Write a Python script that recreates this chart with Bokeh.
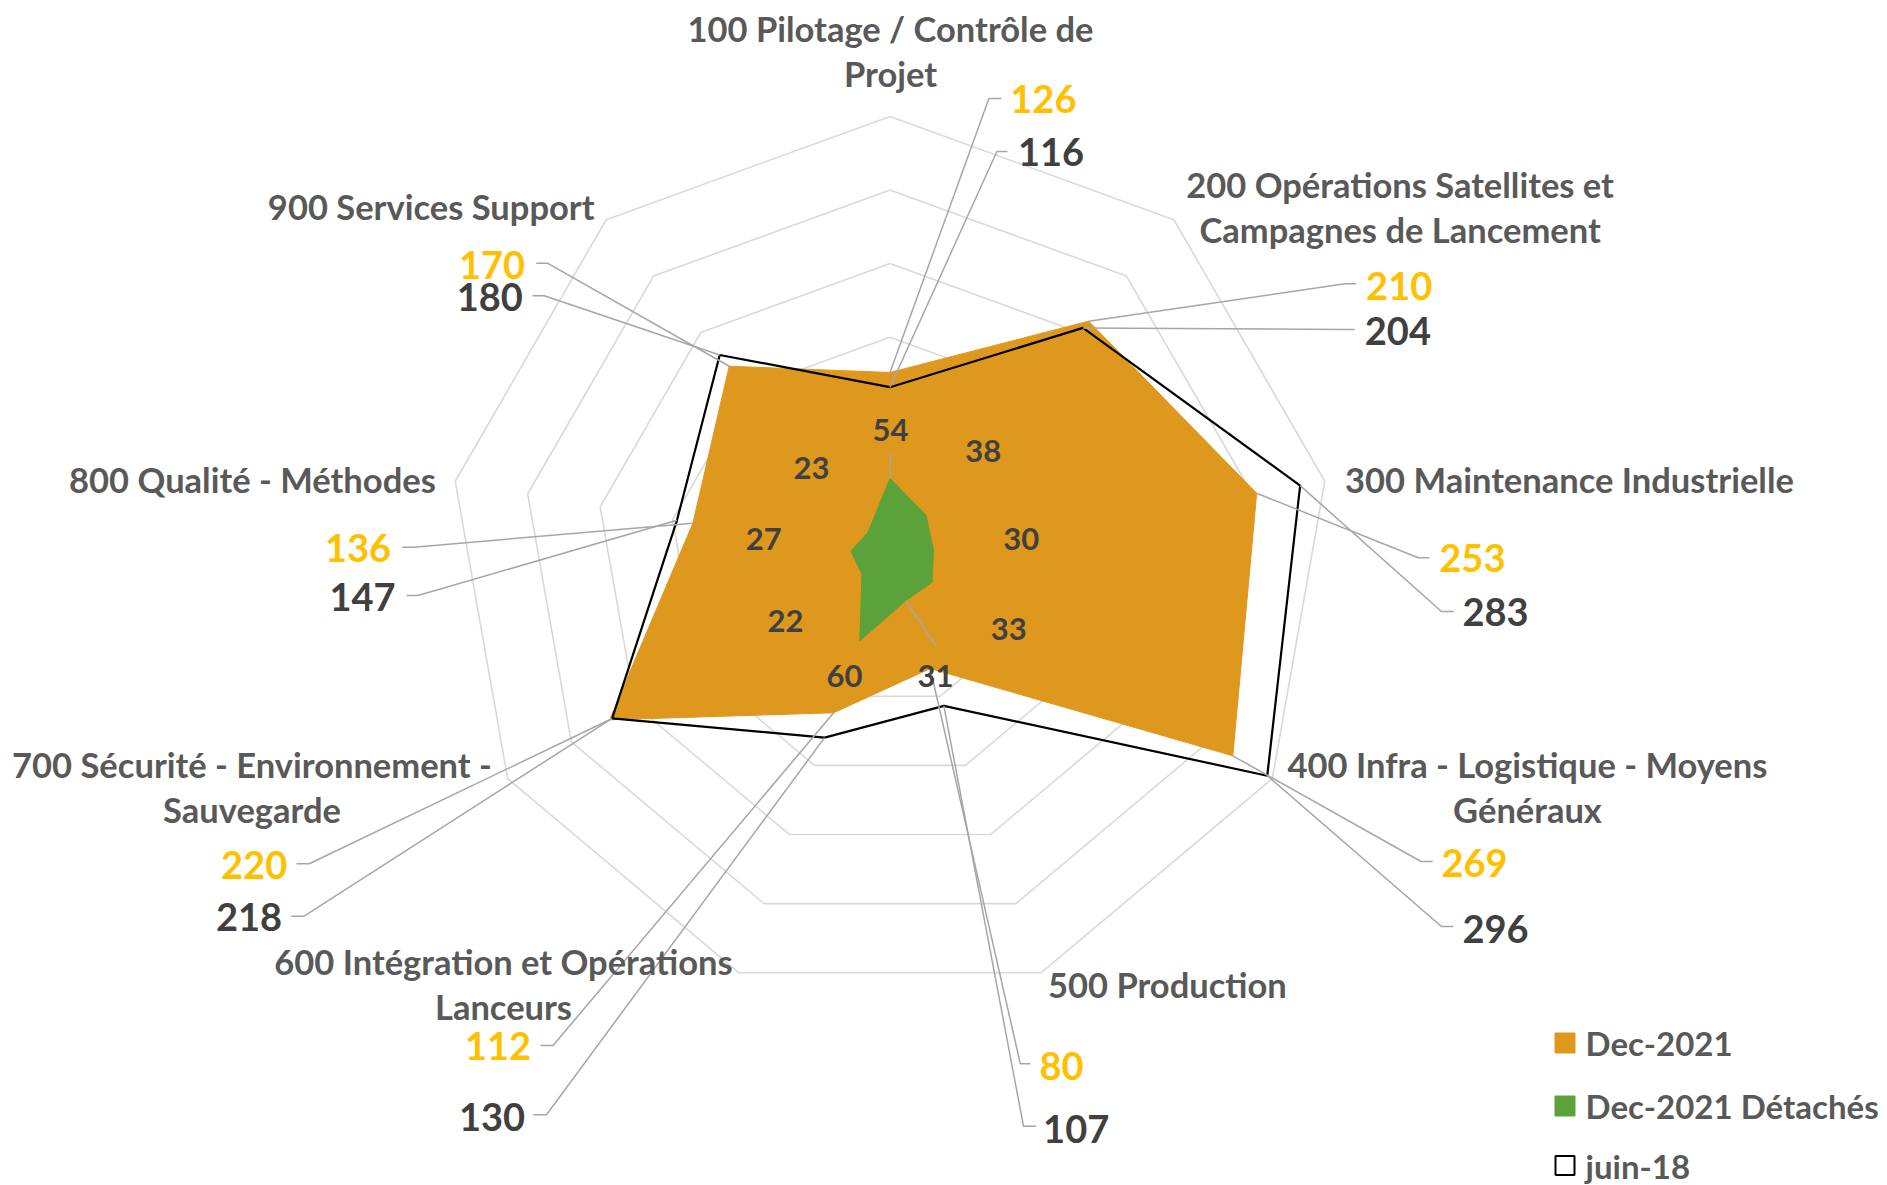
import numpy as np
from bokeh.plotting import figure
from bokeh.models import Range1d
from bokeh.embed import file_html
from bokeh.resources import INLINE
from bokeh.core.properties import value

# ---------------- data ----------------
categories = [
    "100 Pilotage / Contrôle de Projet",
    "200 Opérations Satellites et Campagnes de Lancement",
    "300 Maintenance Industrielle",
    "400 Infra - Logistique - Moyens Généraux",
    "500 Production",
    "600 Intégration et Opérations Lanceurs",
    "700 Sécurité - Environnement - Sauvegarde",
    "800 Qualité - Méthodes",
    "900 Services Support",
]
category_lines = [
    ["100 Pilotage / Contrôle de", "Projet"],
    ["200 Opérations Satellites et", "Campagnes de Lancement"],
    ["300 Maintenance Industrielle"],
    ["400 Infra - Logistique - Moyens", "Généraux"],
    ["500 Production"],
    ["600 Intégration et Opérations", "Lanceurs"],
    ["700 Sécurité - Environnement -", "Sauvegarde"],
    ["800 Qualité - Méthodes"],
    ["900 Services Support"],
]
dec2021 = [126, 210, 253, 269, 80, 112, 220, 136, 170]
dec2021_detaches = [54, 38, 30, 33, 31, 60, 22, 27, 23]
juin18 = [116, 204, 283, 296, 107, 130, 218, 147, 180]
grid_levels = [50, 100, 150, 200, 250, 300]
legend_labels = ["Dec-2021", "Dec-2021 Détachés", "juin-18"]

# ---------------- geometry (page pixels) ----------------
W, H = 1887, 1185
OFF = 0
CX, CY = 889.5, 557.4
K = 441.5 / 300.0

def to_data(X, Y):
    return (X - CX) / K, (CY - Y) / K

n = len(categories)
ang = np.deg2rad(np.arange(n) * 360.0 / n)

def polar(r):
    r = np.asarray(r, dtype=float)
    return r * np.sin(ang), r * np.cos(ang)

x0, y0 = to_data(OFF, OFF)
x1, y1 = to_data(OFF + W, OFF + H)

p = figure(width=W, height=H, output_backend="svg", toolbar_location=None,
           x_range=Range1d(x0, x1), y_range=Range1d(y1, y0),
           min_border=0, outline_line_color=None)
p.axis.visible = False
p.grid.visible = False
p.background_fill_color = "white"

FONT = value("Lato")
ORANGE = "#DF981E"
GREEN = "#5CA23A"
GOLD = "#FFC000"
DARK = "#404040"
CATC = "#595959"
LEAD = "#A6A6A6"

# grid rings
for lv in grid_levels:
    gx, gy = polar([lv] * n)
    p.line(list(gx) + [gx[0]], list(gy) + [gy[0]], line_color="#D9D9D9", line_width=1.6)

# series
ox, oy = polar(dec2021)
p.patch(list(ox), list(oy), fill_color=ORANGE, line_color=ORANGE, line_width=1)
jx, jy = polar(juin18)
p.line(list(jx) + [jx[0]], list(jy) + [jy[0]], line_color="black", line_width=2.2)
gx2, gy2 = polar(dec2021_detaches)
p.patch(list(gx2), list(gy2), fill_color=GREEN, line_color=GREEN, line_width=1)

# ---------------- label layout (page pixels) ----------------
# (text_x, text_y, align, elbow_x, elbow_y, stub_end_x)
orange_layout = [
    (1009.8, 98.3, "left", 988.4, 98.0, 1000.9),
    (1365.6, 285.0, "left", 1344.6, 283.3, 1355.6),
    (1438.8, 557.5, "left", 1417.8, 557.3, 1428.7),
    (1441.0, 862.5, "left", 1420.5, 861.0, 1432.2),
    (1039.0, 1065.0, "left", 1019.8, 1063.3, 1030.0),
    (530.6, 1045.0, "right", 552.6, 1045.0, 540.0),
    (286.7, 864.3, "right", 308.7, 863.3, 296.0),
    (390.6, 547.5, "right", 413.0, 546.7, 401.8),
    (524.6, 264.0, "right", 546.9, 262.7, 535.7),
]
dark_layout = [
    (1017.4, 151.7, "left", 996.4, 151.0, 1007.1),
    (1364.3, 330.0, "left", 1343.0, 329.0, 1354.0),
    (1462.0, 611.7, "left", 1441.0, 611.0, 1453.3),
    (1462.0, 928.3, "left", 1441.0, 926.0, 1453.0),
    (1042.6, 1128.3, "left", 1023.0, 1125.7, 1035.7),
    (524.5, 1116.7, "right", 546.0, 1114.3, 533.0),
    (281.6, 916.7, "right", 303.6, 915.7, 290.8),
    (395.0, 596.7, "right", 417.4, 595.0, 406.0),
    (522.3, 296.7, "right", 543.75, 295.3, 532.0),
]
# category label anchors: (x, first line y, align)
cat_layout = [
    (890.0, 28.0, "center"),
    (1399.6, 184.0, "center"),
    (1344.6, 479.0, "left"),
    (1527.0, 764.0, "center"),
    (1047.5, 984.0, "left"),
    (503.0, 961.0, "center"),
    (251.5, 764.0, "center"),
    (435.3, 479.0, "right"),
    (594.0, 206.0, "right"),
]
LINE_H = 44.5
green_layout = [
    (890.0, 429.3), (982.7, 450.0), (1020.7, 538.3), (1008.3, 628.3),
    (935.0, 675.0), (844.0, 675.0), (785.0, 620.7), (763.3, 538.3), (811.0, 467.3),
]
green_leaders = {0: (890.0, 452.7), 4: (936.0, 646.0)}

def leaders(vx, vy, layout):
    for i, (tx, ty, al, ex, ey, sx) in enumerate(layout):
        exd, eyd = to_data(ex, ey)
        sxd, _ = to_data(sx, ey)
        p.line([vx[i], exd, sxd], [vy[i], eyd, eyd], line_color=LEAD, line_width=1.5)

leaders(ox, oy, orange_layout)
leaders(jx, jy, dark_layout)
for i, (lx, ly) in green_leaders.items():
    a, b = to_data(lx, ly)
    p.line([gx2[i], a], [gy2[i], b], line_color=LEAD, line_width=1.5)

def num_labels(vals, layout, color, size):
    for al in ("left", "right"):
        xs, ys, ts = [], [], []
        for v, (tx, ty, a, *_r) in zip(vals, layout):
            if a == al:
                dx, dy = to_data(tx, ty)
                xs.append(dx); ys.append(dy); ts.append(str(v))
        if xs:
            p.text(xs, ys, text=ts, text_align=al, text_baseline="middle",
                   text_font=FONT, text_font_style="bold", text_font_size=size,
                   text_color=color)

num_labels(dec2021, orange_layout, GOLD, "38px")
num_labels(juin18, dark_layout, DARK, "38px")

gxs, gys = zip(*[to_data(a, b) for a, b in green_layout])
p.text(list(gxs), list(gys), text=[str(v) for v in dec2021_detaches], text_align="center",
       text_baseline="middle", text_font=FONT, text_font_style="bold",
       text_font_size="31px", text_color=DARK)

# category labels
for lines, (cx, cy, al) in zip(category_lines, cat_layout):
    xs, ys = [], []
    for j, ln in enumerate(lines):
        a, b = to_data(cx, cy + j * LINE_H)
        xs.append(a); ys.append(b)
    p.text(xs, ys, text=lines, text_align=al, text_baseline="middle",
           text_font=FONT, text_font_style="bold", text_font_size="34.5px",
           text_color=CATC)

# legend
leg_y = [1042.5, 1105.5, 1165.0]
leg_fill = [ORANGE, GREEN, "white"]
leg_line = [ORANGE, GREEN, "black"]
for lab, yy, fc, lc in zip(legend_labels, leg_y, leg_fill, leg_line):
    a, b = to_data(1564.5, yy)
    p.scatter([a], [b], marker="square", size=20 if lc != "black" else 19,
              fill_color=fc, line_color=lc, line_width=2 if lc == "black" else 1)
    ta, tb = to_data(1585.0, yy)
    p.text([ta], [tb], text=[lab], text_align="left", text_baseline="middle",
           text_font=FONT, text_font_style="bold", text_font_size="33px",
           text_color=CATC)

open("out.html", "w").write(file_html(p, INLINE))
